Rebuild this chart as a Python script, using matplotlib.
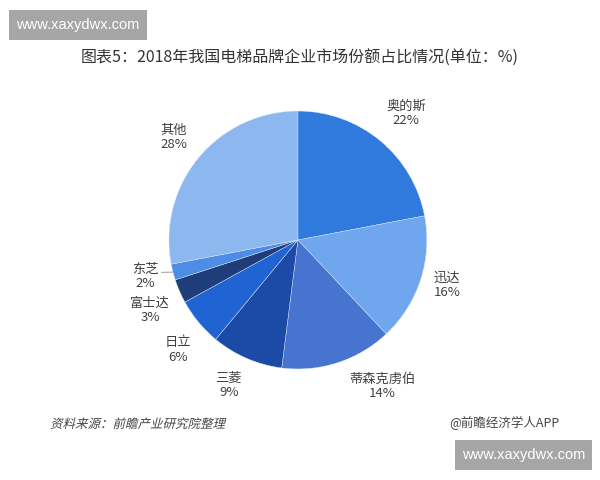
import numpy as np
import matplotlib
matplotlib.use("Agg")
import matplotlib.pyplot as plt
from matplotlib.font_manager import FontProperties
from matplotlib.patches import PathPatch, Rectangle
from matplotlib.textpath import TextPath
from matplotlib.transforms import Affine2D, IdentityTransform

plt.rcParams["font.family"] = ["Noto Sans CJK SC", "DejaVu Sans"]

# data
brands = ["奥的斯", "迅达", "蒂森克虏伯", "三菱", "日立", "富士达", "东芝", "其他"]
shares = [22, 16, 14, 9, 6, 3, 2, 28]
colors = ["#3079dd", "#6fa6ed", "#4674cf", "#1b4ba6", "#1f64d2", "#1f3d79", "#4d8de6", "#8db8ef"]

title = "图表5：2018年我国电梯品牌企业市场份额占比情况(单位：%)"
source = "资料来源：前瞻产业研究院整理"
credit = "@前瞻经济学人APP"
site = "www.xaxydwx.com"

# label placement tweaks (style only)
label_dist = [1.29, 1.21, 1.31, 1.25, 1.26, 1.27, 1.22, 1.25]
label_shift = [-1, 1, 12, -2, 3, 2, -1, 0]

fig = plt.figure(figsize=(6, 4.8), dpi=100)
ax = fig.add_axes([0.174, 0.097, 0.645, 0.806])
wedges, _ = ax.pie(shares, colors=colors, startangle=90, counterclock=False,
                   radius=1.0, wedgeprops=dict(edgecolor="#dce8f8", linewidth=0.3))
ax.set_xlim(-1.5, 1.5)
ax.set_ylim(-1.5, 1.5)
ax.set_aspect("equal")
ax.axis("off")

for i, w in enumerate(wedges):
    ang = np.deg2rad((w.theta1 + w.theta2) / 2 + label_shift[i])
    r = label_dist[i]
    ax.text(r * np.cos(ang), r * np.sin(ang), f"{brands[i]}\n{shares[i]}%",
            ha="center", va="center", fontsize=9.5, color="#404040", linespacing=1.15)
    if brands[i] == "东芝":
        mid = np.deg2rad((w.theta1 + w.theta2) / 2)
        ax.plot([1.0 * np.cos(mid), 1.09 * np.cos(mid)],
                [1.0 * np.sin(mid), 1.09 * np.sin(mid) + 0.02],
                color="#9a9a9a", lw=0.7)

fig.text(0.5, 1 - 58 / 480, title, ha="center", va="center", fontsize=11.5, color="#333333")

# the CJK font has no italic face, so slant the source line by hand
src_path = TextPath((0, 0), source, size=12.5, prop=FontProperties(family="Noto Sans CJK SC"))
src_tr = Affine2D().skew_deg(14, 0).translate(50, 480 - 428)
fig.patches.append(PathPatch(src_path, transform=src_tr + IdentityTransform(),
                             facecolor="#444444", edgecolor="none"))
fig.text(560 / 600, 1 - 423 / 480, credit, ha="right", va="center", fontsize=9, color="#444444")

# grey site stamps, top-left and bottom-right (pixel boxes: x0, y0_from_top, w, h)
for x0, y0, bw, bh in [(9, 10, 138, 30), (455, 440, 137, 30)]:
    fig.patches.append(Rectangle((x0, 480 - y0 - bh), bw, bh, transform=IdentityTransform(),
                                 facecolor="#a6a6a6", edgecolor="none"))
    fig.text((x0 + bw / 2) / 600, 1 - (y0 + bh / 2) / 480, site, ha="center", va="center",
             fontsize=10.5, color="white", family="Liberation Sans")

fig.savefig("out.png", dpi=100, facecolor="white")
